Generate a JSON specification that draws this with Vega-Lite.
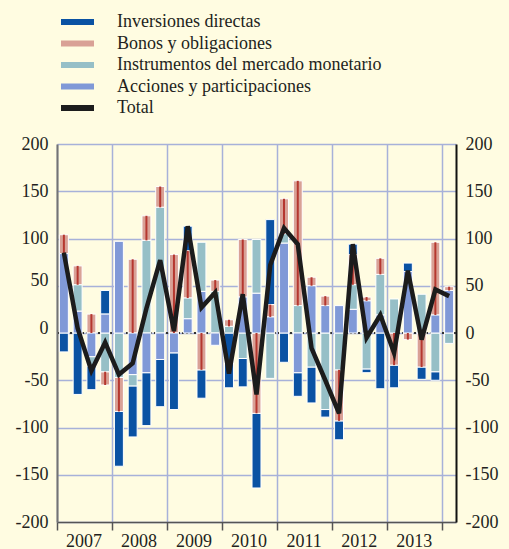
{
  "$schema": "https://vega.github.io/schema/vega-lite/v6.json",
  "width": 399,
  "height": 378,
  "autosize": {"type": "none"},
  "padding": {"left": 57, "top": 144, "right": 53, "bottom": 27},
  "background": "#fffce1",
  "config": {"view": {"stroke": null}, "font": "Liberation Serif"},
  "data": {
    "values": [
      {"q": "2007Q1", "Inversiones directas": -20, "Bonos y obligaciones": 20, "Instrumentos del mercado monetario": 0, "Acciones y participaciones": 84, "Total": 85},
      {"q": "2007Q2", "Inversiones directas": -65, "Bonos y obligaciones": 20, "Instrumentos del mercado monetario": 28, "Acciones y participaciones": 23, "Total": 5},
      {"q": "2007Q3", "Inversiones directas": -25, "Bonos y obligaciones": 20, "Instrumentos del mercado monetario": -10, "Acciones y participaciones": -25, "Total": -40},
      {"q": "2007Q4", "Inversiones directas": 25, "Bonos y obligaciones": -14, "Instrumentos del mercado monetario": -41, "Acciones y participaciones": 20, "Total": -10},
      {"q": "2008Q1", "Inversiones directas": -58, "Bonos y obligaciones": -36, "Instrumentos del mercado monetario": -47, "Acciones y participaciones": 97, "Total": -44},
      {"q": "2008Q2", "Inversiones directas": -54, "Bonos y obligaciones": 78, "Instrumentos del mercado monetario": -12, "Acciones y participaciones": -44, "Total": -32},
      {"q": "2008Q3", "Inversiones directas": -56, "Bonos y obligaciones": 26, "Instrumentos del mercado monetario": 98, "Acciones y participaciones": -42, "Total": 26},
      {"q": "2008Q4", "Inversiones directas": -50, "Bonos y obligaciones": 22, "Instrumentos del mercado monetario": 133, "Acciones y participaciones": -28, "Total": 77},
      {"q": "2009Q1", "Inversiones directas": -60, "Bonos y obligaciones": 83, "Instrumentos del mercado monetario": 0, "Acciones y participaciones": -21, "Total": 2},
      {"q": "2009Q2", "Inversiones directas": 26, "Bonos y obligaciones": 50, "Instrumentos del mercado monetario": 22, "Acciones y participaciones": 15, "Total": 113},
      {"q": "2009Q3", "Inversiones directas": -30, "Bonos y obligaciones": -39, "Instrumentos del mercado monetario": 52, "Acciones y participaciones": 44, "Total": 27},
      {"q": "2009Q4", "Inversiones directas": 0, "Bonos y obligaciones": 12, "Instrumentos del mercado monetario": 44, "Acciones y participaciones": -13, "Total": 43},
      {"q": "2010Q1", "Inversiones directas": -58, "Bonos y obligaciones": 7, "Instrumentos del mercado monetario": 7, "Acciones y participaciones": 0, "Total": -43},
      {"q": "2010Q2", "Inversiones directas": -30, "Bonos y obligaciones": 61, "Instrumentos del mercado monetario": -27, "Acciones y participaciones": 38, "Total": 41},
      {"q": "2010Q3", "Inversiones directas": -79, "Bonos y obligaciones": -85, "Instrumentos del mercado monetario": 57, "Acciones y participaciones": 42, "Total": -65},
      {"q": "2010Q4", "Inversiones directas": 90, "Bonos y obligaciones": 13, "Instrumentos del mercado monetario": -48, "Acciones y participaciones": 17, "Total": 72},
      {"q": "2011Q1", "Inversiones directas": -31, "Bonos y obligaciones": 37, "Instrumentos del mercado monetario": 10, "Acciones y participaciones": 95, "Total": 111},
      {"q": "2011Q2", "Inversiones directas": -25, "Bonos y obligaciones": 132, "Instrumentos del mercado monetario": 29, "Acciones y participaciones": -42, "Total": 94},
      {"q": "2011Q3", "Inversiones directas": -38, "Bonos y obligaciones": 9, "Instrumentos del mercado monetario": -36, "Acciones y participaciones": 50, "Total": -16},
      {"q": "2011Q4", "Inversiones directas": -8, "Bonos y obligaciones": 10, "Instrumentos del mercado monetario": -81, "Acciones y participaciones": 29, "Total": -50},
      {"q": "2012Q1", "Inversiones directas": -20, "Bonos y obligaciones": -54, "Instrumentos del mercado monetario": -39, "Acciones y participaciones": 29, "Total": -85},
      {"q": "2012Q2", "Inversiones directas": 11, "Bonos y obligaciones": 32, "Instrumentos del mercado monetario": 26, "Acciones y participaciones": 25, "Total": 94},
      {"q": "2012Q3", "Inversiones directas": -4, "Bonos y obligaciones": 4, "Instrumentos del mercado monetario": -38, "Acciones y participaciones": 34, "Total": -5},
      {"q": "2012Q4", "Inversiones directas": -59, "Bonos y obligaciones": 17, "Instrumentos del mercado monetario": 43, "Acciones y participaciones": 19, "Total": 19},
      {"q": "2013Q1", "Inversiones directas": -24, "Bonos y obligaciones": -34, "Instrumentos del mercado monetario": 36, "Acciones y participaciones": 0, "Total": -21},
      {"q": "2013Q2", "Inversiones directas": 9, "Bonos y obligaciones": -7, "Instrumentos del mercado monetario": 0, "Acciones y participaciones": 65, "Total": 66},
      {"q": "2013Q3", "Inversiones directas": -13, "Bonos y obligaciones": -36, "Instrumentos del mercado monetario": 41, "Acciones y participaciones": 0, "Total": -7},
      {"q": "2013Q4", "Inversiones directas": -9, "Bonos y obligaciones": 77, "Instrumentos del mercado monetario": -41, "Acciones y participaciones": 19, "Total": 46},
      {"q": "2014Q1", "Inversiones directas": 0, "Bonos y obligaciones": 4, "Instrumentos del mercado monetario": -11, "Acciones y participaciones": 45, "Total": 39}
    ]
  },
  "layer": [
    {
      "mark": {"type": "rule", "color": "#333333", "strokeDash": [2, 2], "strokeWidth": 1},
      "encoding": {
        "y": {"datum": 0, "type": "quantitative", "scale": {"domain": [-200, 200], "nice": false}, "axis": null}
      }
    },
    {
      "transform": [
        {"fold": ["Inversiones directas", "Bonos y obligaciones", "Instrumentos del mercado monetario", "Acciones y participaciones"], "as": ["series", "value"]},
        {"filter": "datum.value != 0"},
        {"calculate": "indexof(['Acciones y participaciones', 'Instrumentos del mercado monetario', 'Bonos y obligaciones', 'Inversiones directas'], datum.series)", "as": "k"},
        {"stack": "value", "groupby": ["q"], "sort": [{"field": "k", "order": "ascending"}], "as": ["v0", "v1"]}
      ],
      "mark": {"type": "bar", "stroke": "#ffffff", "strokeWidth": 1},
      "encoding": {
        "x": {
          "field": "q", "type": "ordinal",
          "scale": {"paddingInner": 0.35, "paddingOuter": 0.175},
          "axis": {
            "title": null,
            "values": ["2007Q1", "2008Q1", "2009Q1", "2010Q1", "2011Q1", "2012Q1", "2013Q1", "2014Q1"],
            "bandPosition": 0, "tickOffset": -2.4,
            "labelExpr": "datum.value == '2014Q1' ? '' : slice(datum.value, 0, 4)",
            "labelOffset": 22, "labelAngle": 0, "labelPadding": 2,
            "tickSize": 8, "tickWidth": 1.5, "tickColor": "#555555",
            "domainColor": "#555555", "domainWidth": 1.5,
            "grid": true, "gridColor": "#a7b1d9", "gridWidth": 1.5,
            "labelFont": "Liberation Serif", "labelFontSize": 18, "labelColor": "#231f20",
            "labelFlush": false, "labelOverlap": false
          }
        },
        "y": {
          "field": "v0", "type": "quantitative",
          "scale": {"domain": [-200, 200], "nice": false},
          "axis": {
            "orient": "left", "title": null,
            "values": [-200, -150, -100, -50, 0, 50, 100, 150, 200],
            "labelExpr": "replace(datum.label, '\u2212', '-')",
            "labelBaseline": {"condition": {"test": "datum.value == 0 || datum.value == 50", "value": "alphabetic"}, "value": "middle"},
            "ticks": false, "tickSize": 0, "labelPadding": 9,
            "domainColor": "#737373", "domainWidth": 2,
            "grid": true, "gridColor": "#a7b1d9", "gridWidth": 1.5,
            "labelFont": "Liberation Serif", "labelFontSize": 18, "labelColor": "#231f20"
          }
        },
        "y2": {"field": "v1"},
        "color": {
          "field": "series", "type": "nominal",
          "scale": {
            "domain": ["Inversiones directas", "Bonos y obligaciones", "Instrumentos del mercado monetario", "Acciones y participaciones", "Total"],
            "range": ["#0a52a3", "#d9a196", "#96bfc7", "#8099d7", "#1c1c1c"]
          },
          "legend": {
            "orient": "none", "legendX": 11.5, "legendY": -131,
            "title": null, "padding": 0,
            "symbolType": "M-3.3,-0.6L3.3,-0.6L3.3,0.6L-3.3,0.6Z",
            "symbolSize": 100, "symbolStrokeWidth": 0,
            "labelOffset": 30.5, "rowPadding": 3.5,
            "labelFont": "Liberation Serif", "labelFontSize": 18, "labelColor": "#231f20", "labelLimit": 400
          }
        }
      }
    },
    {
      "transform": [
        {"fold": ["Inversiones directas", "Bonos y obligaciones", "Instrumentos del mercado monetario", "Acciones y participaciones"], "as": ["series", "value"]},
        {"filter": "datum.value != 0"},
        {"calculate": "indexof(['Acciones y participaciones', 'Instrumentos del mercado monetario', 'Bonos y obligaciones', 'Inversiones directas'], datum.series)", "as": "k"},
        {"stack": "value", "groupby": ["q"], "sort": [{"field": "k", "order": "ascending"}], "as": ["v0", "v1"]},
        {"filter": "datum.series === 'Bonos y obligaciones'"}
      ],
      "mark": {"type": "bar", "width": 2, "color": "#b5372f"},
      "encoding": {
        "x": {"field": "q", "type": "ordinal"},
        "y": {"field": "v0", "type": "quantitative", "scale": {"domain": [-200, 200], "nice": false}, "axis": null},
        "y2": {"field": "v1"}
      }
    },
    {
      "mark": {"type": "line", "color": "#1c1c1c", "strokeWidth": 4.5, "strokeJoin": "miter"},
      "encoding": {
        "x": {"field": "q", "type": "ordinal"},
        "y": {
          "field": "Total", "type": "quantitative",
          "scale": {"domain": [-200, 200], "nice": false},
          "axis": {
            "orient": "right", "title": null,
            "values": [-200, -150, -100, -50, 0, 50, 100, 150, 200],
            "labelExpr": "replace(datum.label, '\u2212', '-')",
            "ticks": false, "tickSize": 0, "labelPadding": 9,
            "domainColor": "#111111", "domainWidth": 2,
            "grid": false,
            "labelFont": "Liberation Serif", "labelFontSize": 18, "labelColor": "#231f20"
          }
        }
      }
    }
  ],
  "resolve": {"axis": {"y": "independent"}}
}
